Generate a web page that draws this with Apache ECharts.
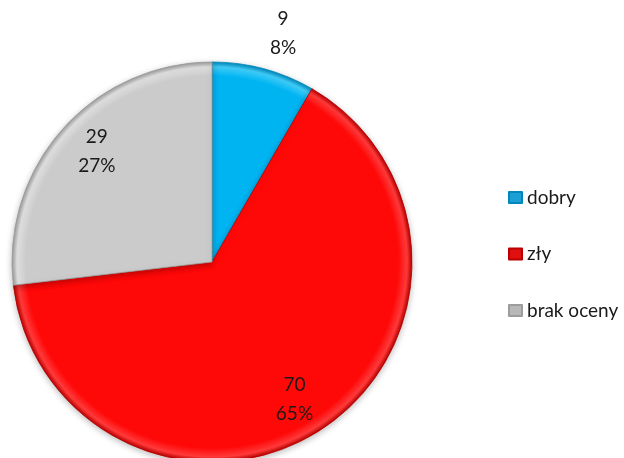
<!DOCTYPE html>
<html>
<head>
<meta charset="utf-8">
<script src="https://cdn.jsdelivr.net/npm/echarts@6/dist/echarts.min.js"></script>
<style>
  html, body { margin: 0; padding: 0; background: #ffffff; }
  #chart { width: 624px; height: 458px; }
</style>
</head>
<body>
<div id="chart"></div>
<script>
// Ratings breakdown
const categories = ['dobry', 'zły', 'brak oceny'];
const counts = [9, 70, 29];

const baseColors = ['#00b4f2', '#ff0808', '#cbcbcb'];
const lightColors = ['#40ccf8', '#ff3a3a', '#dedede'];
const edgeColors = ['#0088bb', '#b80000', '#9c9c9c'];
const legendColors = ['#1c9ed6', '#e01010', '#b8b8b8'];

const FONT = 'Lato, "Open Sans", sans-serif';
const CENTER = [212, 262];
const R = 200;

// Bevelled look: flat face, light rim just inside the edge, dark outer line
function sliceStyle(i) {
  return {
    color: {
      type: 'radial', x: CENTER[0], y: CENTER[1], r: R, global: true,
      colorStops: [
        { offset: 0, color: baseColors[i] },
        { offset: 0.93, color: baseColors[i] },
        { offset: 0.975, color: lightColors[i] },
        { offset: 1, color: edgeColors[i] }
      ]
    },
    borderColor: edgeColors[i],
    borderWidth: 0.8
  };
}

const pieData = categories.map((name, i) => ({ name, value: counts[i], itemStyle: sliceStyle(i) }));

// Transparent rings whose mid-radius sets where the value labels sit
function labelRing(radius, showFor) {
  return {
    type: 'pie',
    silent: true,
    center: CENTER,
    radius: radius,
    startAngle: 87.7,
    clockwise: true,
    legendHoverLink: false,
    emphasis: { disabled: true },
    itemStyle: { color: 'rgba(0,0,0,0)', borderWidth: 0 },
    labelLine: { show: false },
    data: categories.map((name, i) => ({
      name,
      value: counts[i],
      label: { show: showFor.includes(i) }
    })),
    label: {
      position: 'inside',
      fontFamily: FONT,
      fontSize: 19,
      lineHeight: 29,
      color: '#1a1a1a',
      formatter: p => p.value + '\n' + Math.round(p.percent) + '%'
    }
  };
}

const chart = echarts.init(document.getElementById('chart'), null, { renderer: 'canvas' });
chart.setOption({
  animation: false,
  backgroundColor: '#ffffff',
  legend: {
    orient: 'vertical',
    left: 503,
    top: 183,
    icon: 'rect',
    itemWidth: 13,
    itemHeight: 11,
    itemGap: 37.5,
    data: categories.map((name, i) => ({ name, itemStyle: { color: legendColors[i] } })),
    textStyle: { fontFamily: FONT, fontSize: 19, color: '#1a1a1a' }
  },
  series: [
    {
      type: 'pie',
      center: CENTER,
      radius: R,
      startAngle: 90,
      clockwise: true,
      label: { show: false },
      labelLine: { show: false },
      emphasis: { scale: false },
      itemStyle: {
        shadowBlur: 6,
        shadowColor: 'rgba(0,0,0,0.25)',
        shadowOffsetY: 2
      },
      data: pieData
    },
    labelRing(R * 1.57, [1, 2]),
    labelRing(R * 2.36, [0])
  ]
});
</script>
</body>
</html>
